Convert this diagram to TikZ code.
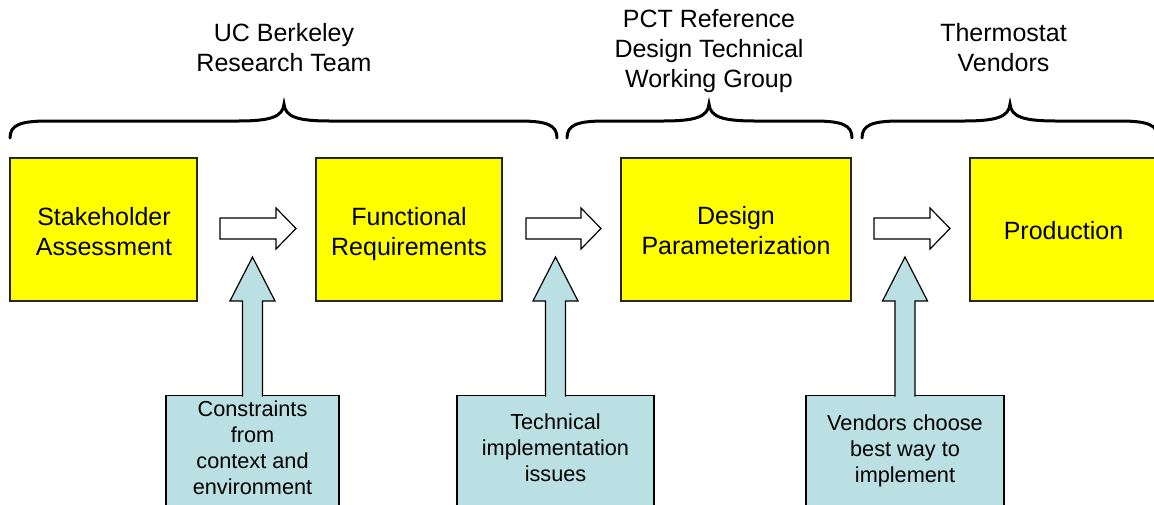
\documentclass[tikz,border=0pt]{standalone}
\usepackage{fontspec}
\setmainfont{Liberation Sans}
\definecolor{calloutblue}{RGB}{187,224,227}
\definecolor{boxyellow}{RGB}{255,255,0}
\newcommand\mybrace[3]{%
  \draw[bracestyle] (#1,138) .. controls (#1,125) and (#1+10,121) .. (#1+38,121)
    -- (#2-46,121) .. controls (#2-14,121) and (#2-1,117) .. (#2,104)
    .. controls (#2+1,117) and (#2+14,121) .. (#2+46,121)
    -- (#3-38,121) .. controls (#3-10,121) and (#3,125) .. (#3,138);}
\newcommand\whitearrow[2]{%
  \draw[arrowstyle] (#1,218) -- (#2-20,218) -- (#2-20,208) -- (#2,228.5)
    -- (#2-20,249) -- (#2-20,239) -- (#1,239) -- cycle;}
\newcommand\upcallout[1]{%
  \filldraw[calloutstyle] (#1-10,396.5) -- (#1-10,301) -- (#1-22.5,301) -- (#1,257)
    -- (#1+22.5,301) -- (#1+10,301) -- (#1+10,396.5);}
\begin{document}
\begin{tikzpicture}[x=1pt,y=-1pt,
  yellowbox/.style={draw=black!85, line width=1.2pt, fill=boxyellow,
    minimum height=143pt, inner sep=0pt},
  boxtext/.style={align=center, inner sep=0pt, font=\fontsize{25}{30}\selectfont},
  bluebox/.style={draw=black, line width=1.2pt, fill=calloutblue,
    minimum height=117pt, inner sep=0pt},
  bluetext/.style={align=center, inner sep=0pt, font=\fontsize{21.7}{26}\selectfont},
  titletext/.style={align=center, inner sep=0pt, font=\fontsize{25}{30}\selectfont},
  bracestyle/.style={line width=3pt, line cap=round, black},
  arrowstyle/.style={draw=black, line width=1.2pt, fill=white, line join=miter},
  calloutstyle/.style={draw=black, line width=1.2pt, fill=calloutblue, line join=miter}]
\useasboundingbox (0,0) rectangle (1154,504);
\fill[white] (0,0) rectangle (1154,504);

% titles
\node[titletext] (t1) at (284,47.5) {UC Berkeley\\Research Team};
\node[titletext] (t2) at (709,51) {PCT Reference\\Design Technical\\Working Group};
\node[titletext] (t3) at (1003.5,47.5) {Thermostat\\Vendors};

% braces
\mybrace{10}{284}{557}
\mybrace{567}{709}{852}
\mybrace{862}{1010}{1158}

% yellow boxes
\node[yellowbox, minimum width=187pt] (b1) at (103.5,229.5) {};
\node[yellowbox, minimum width=186pt] (b2) at (409,229.5) {};
\node[yellowbox, minimum width=230pt] (b3) at (736,229.5) {};
\node[yellowbox, minimum width=188pt] (b4) at (1064,229.5) {};
\node[boxtext] (bt1) at (104,231.5) {Stakeholder\\Assessment};
\node[boxtext] (bt2) at (409,234) {Functional\\Requirements};
\node[boxtext] (bt3) at (736,230.5) {Design\\Parameterization};
\node[boxtext] (bt4) at (1063.5,231) {Production};

% white block arrows
\whitearrow{220}{296}
\whitearrow{526}{601}
\whitearrow{874}{950}

% blue callouts
\node[bluebox, minimum width=173pt] (c1) at (252.5,454) {};
\node[bluebox, minimum width=197pt] (c2) at (555.5,454) {};
\node[bluebox, minimum width=198pt] (c3) at (905,454) {};
\upcallout{252.5}
\upcallout{555.5}
\upcallout{905}
\node[bluetext] (ct1) at (252.5,448) {Constraints\\from\\context and\\environment};
\node[bluetext] (ct2) at (555.5,447.5) {Technical\\implementation\\issues};
\node[bluetext] (ct3) at (905,451) {Vendors choose\\best way to\\implement};
\end{tikzpicture}
\end{document}
